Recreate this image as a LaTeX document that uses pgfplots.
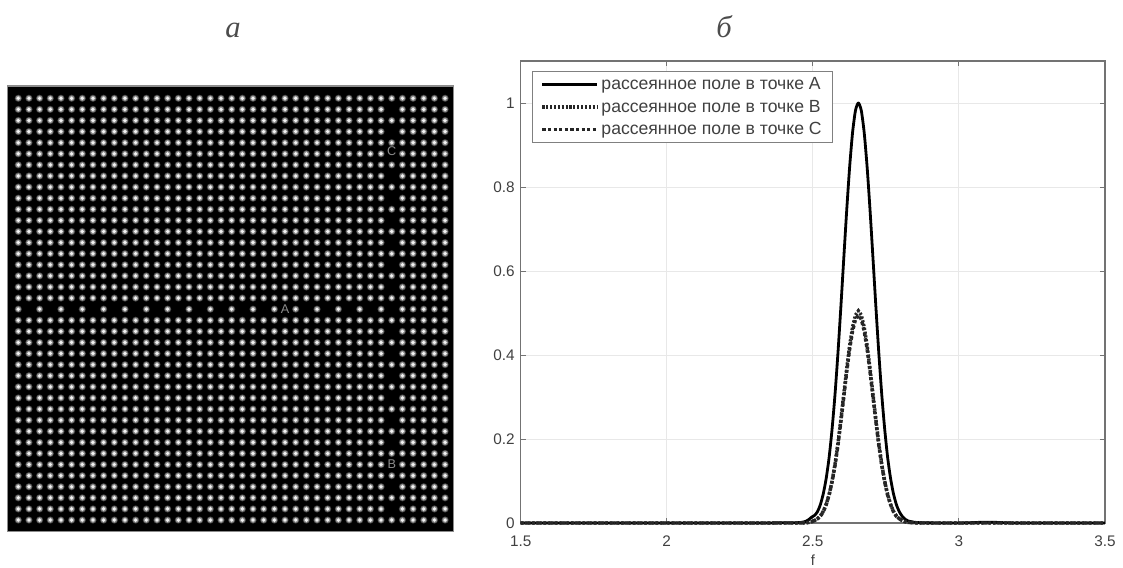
\documentclass[border=0pt]{standalone}
\usepackage{pgfplots}
\pgfplotsset{compat=1.18}
\usepackage{pgfplotstable}
\usepackage{fontspec}
\setmainfont{Liberation Sans}
\newfontfamily\serifit[Scale=1]{Liberation Serif}
\pgfdeclareplotmark{latdot}{%
  \pgfsetfillcolor{black!75}\pgfpathcircle{\pgfpointorigin}{2.7pt}\pgfusepathqfill
  \pgfsetfillcolor{black!45}\pgfpathcircle{\pgfpointorigin}{2.1pt}\pgfusepathqfill
  \pgfsetfillcolor{black!5}\pgfpathcircle{\pgfpointorigin}{1.4pt}\pgfusepathqfill}
% lattice columns of an ordinary row (column 35 is the vertical guide)
\pgfplotstableread{
c d
0 0
1 0
2 0
3 0
4 0
5 0
6 0
7 0
8 0
9 0
10 0
11 0
12 0
13 0
14 0
15 0
16 0
17 0
18 0
19 0
20 0
21 0
22 0
23 0
24 0
25 0
26 0
27 0
28 0
29 0
30 0
31 0
32 0
33 0
34 0
36 0
37 0
38 0
39 0
40 0
}\rowcols
% row 19: the horizontal guide
\pgfplotstableread{
c r
0 19
2 19
4 19
6 19
8 19
10 19
12 19
14 19
16 19
18 19
20 19
22 19
24 19
26 19
28 19
30 19
32 19
34 19
36 19
37 19
38 19
39 19
40 19
}\guiderow
% column 35: the vertical guide
\pgfplotstableread{
c r
35 0
35 2
35 4
35 6
35 8
35 10
35 12
35 14
35 16
35 18
35 20
35 22
35 24
35 26
35 28
35 30
35 32
35 34
35 36
35 38
}\guidecol
\pgfplotstableread{
f A B C
1.500 0 0 0
2.000 0 0 0
2.300 0 0 0
2.400 0.0005 0 0
2.456 0.001 0 0
2.476 0.004 0.0005 0.0005
2.486 0.008 0.0015 0.0015
2.496 0.014 0.003 0.003
2.506 0.018 0.006 0.006
2.516 0.027 0.010 0.010
2.526 0.044 0.017 0.016
2.536 0.070 0.028 0.027
2.546 0.107 0.045 0.044
2.556 0.157 0.068 0.067
2.566 0.224 0.100 0.098
2.576 0.306 0.140 0.137
2.586 0.404 0.189 0.185
2.596 0.514 0.246 0.241
2.606 0.630 0.306 0.300
2.616 0.744 0.367 0.360
2.626 0.847 0.422 0.414
2.636 0.929 0.466 0.457
2.646 0.982 0.495 0.485
2.656 1.000 0.505 0.495
2.666 0.982 0.495 0.485
2.676 0.929 0.466 0.457
2.686 0.847 0.422 0.414
2.696 0.744 0.367 0.360
2.706 0.630 0.306 0.300
2.716 0.514 0.246 0.241
2.726 0.404 0.189 0.185
2.736 0.306 0.140 0.137
2.746 0.224 0.100 0.098
2.756 0.157 0.068 0.067
2.766 0.107 0.045 0.044
2.776 0.070 0.028 0.027
2.786 0.044 0.017 0.016
2.796 0.027 0.010 0.010
2.806 0.016 0.006 0.006
2.816 0.009 0.003 0.003
2.826 0.005 0.0015 0.0015
2.846 0.002 0.0005 0.0005
2.876 0.0005 0 0
3.000 0 0 0
3.100 0.002 0 0
3.200 0 0 0
3.500 0 0 0
}\curves
\begin{document}
\begin{tikzpicture}[x=0.75pt,y=0.75pt]
\useasboundingbox (0,0) rectangle (1123,567);
% panel a
\begin{axis}[
  at={(5.625pt,26.475pt)},anchor=south west,scale only axis,
  width=334.35pt,height=334.3pt,
  xmin=-1.01,xmax=40.77,ymin=-1.11,ymax=39.05,y dir=reverse,
  axis background/.style={fill=black},
  axis line style={draw=black!45,line width=0.8pt},
  ticks=none,clip=false]
\pgfplotsinvokeforeach{0,...,18,20,21,...,38}{
  \addplot[only marks,mark=latdot] table[x=c,y expr=#1]{\rowcols};
}
\addplot[only marks,mark=latdot] table[x=c,y=r]{\guiderow};
\addplot[only marks,mark=latdot] table[x=c,y=r]{\guidecol};
\node[text=black!45,font=\fontsize{9.5}{10}\selectfont] at (axis cs:25,19) {A};
\node[text=black!45,font=\fontsize{9.5}{10}\selectfont] at (axis cs:35,4.8) {C};
\node[text=black!45,font=\fontsize{9.5}{10}\selectfont] at (axis cs:35,33) {B};
\end{axis}
% panel b
\begin{axis}[
  at={(390.5pt,33pt)},anchor=south west,scale only axis,
  width=438.2pt,height=346.5pt,
  xmin=1.5,xmax=3.5,ymin=0,ymax=1.1,
  xtick={1.5,2,2.5,3,3.5},xticklabels={1.5,2,2.5,3,3.5},
  ytick={0,0.2,0.4,0.6,0.8,1},yticklabels={0,0.2,0.4,0.6,0.8,1},
  grid=major,grid style={draw=black!9,line width=0.7pt},
  axis line style={draw=black!55,line width=0.9pt},
  tick style={draw=black!55,line width=0.6pt},
  major tick length=4pt,
  tick label style={font=\fontsize{11.5}{13}\selectfont,text=black!75},
  xticklabel style={yshift=-6pt},
  yticklabel style={xshift=-1pt},
  xlabel={f},xlabel style={font=\fontsize{11}{12}\selectfont,text=black!75,at={(axis cs:2.5,0)},anchor=north,yshift=-20.5pt},
  clip=false,
  legend image code/.code={\draw[#1] (0pt,0pt) -- (41pt,0pt);},
  legend cell align=left,
  legend style={at={(axis cs:1.539,1.076)},anchor=north west,
    draw=black!50,line width=0.9pt,fill=white,
    font=\fontsize{13.2}{15}\selectfont,text=black!75,
    inner xsep=6pt,inner ysep=2.5pt,row sep=2.2pt},
]
\addplot[black,line width=2.1pt,line join=round,smooth,tension=0.4] table[x=f,y=A]{\curves};
\addlegendentry{рассеянное поле в точке A}
\addplot[black!85,line width=2.6pt,dash pattern=on 1.6pt off 1.3pt] table[x=f,y=B]{\curves};
\addlegendentry{рассеянное поле в точке B}
\addplot[black!85,line width=2.6pt,dash pattern=on 2.4pt off 1.8pt] table[x=f,y=C]{\curves};
\addlegendentry{рассеянное поле в точке C}
\end{axis}
\node[font=\serifit\itshape\fontsize{23}{24}\selectfont,text=black!70] at (233,537) {a};
\node[font=\serifit\itshape\fontsize{23}{24}\selectfont,text=black!70] at (724,540) {б};
\end{tikzpicture}
\end{document}
